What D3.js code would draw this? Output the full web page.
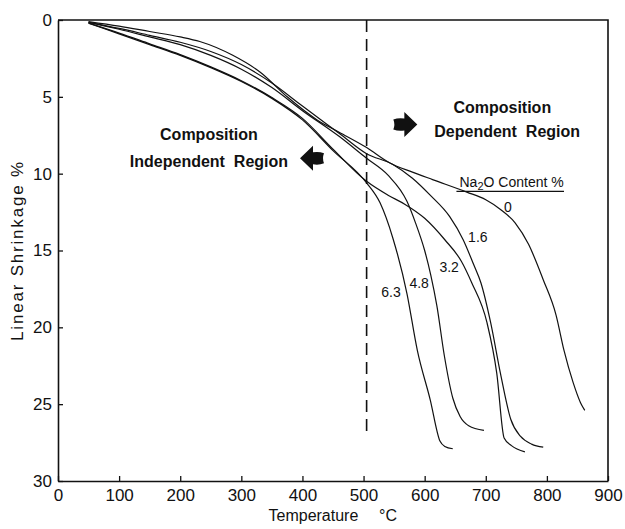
<!DOCTYPE html>
<html>
<head>
<meta charset="utf-8">
<script src="https://cdn.jsdelivr.net/npm/d3@7"></script>
<style>
  html, body { margin: 0; padding: 0; background: #fff; }
  svg { display: block; }
  text { fill: #111; }
</style>
</head>
<body>
<svg id="chart" width="625" height="529"></svg>
<script>
// Linear shrinkage (%) against temperature (°C), one curve per Na2O content
const na0 = [[50,0.1],[100,0.4],[150,0.75],[200,1.1],[232,1.4],[286,2.3],[331,3.4],[375,5.0],[424,6.5],[460,7.3],[505,8.3],[543,9.3],[580,9.9],[614,10.4],[669,11.2],[700,11.7],[723,12.3],[748,13.2],[770,14.6],[794,16.9],[815,19.2],[828,21.5],[843,23.6],[855,24.9],[862,25.4]];
const na16 = [[50,0.15],[100,0.55],[150,1.0],[200,1.45],[250,2.05],[300,2.9],[350,4.1],[400,5.6],[461,7.4],[505,8.7],[548,9.4],[580,10.3],[609,11.4],[641,12.8],[663,14.3],[680,15.9],[692,17.1],[708,19.7],[724,23.0],[741,26.0],[757,27.1],[775,27.6],[794,27.8]];
const na32 = [[50,0.2],[100,0.85],[150,1.55],[200,2.25],[250,3.05],[300,3.95],[350,5.05],[400,6.4],[450,8.4],[505,10.5],[540,11.4],[568,12.0],[600,12.9],[633,14.3],[660,15.7],[677,17.1],[702,19.7],[718,23.0],[730,27.2],[742,27.7],[764,28.1]];
const na48 = [[50,0.15],[100,0.6],[150,1.1],[200,1.6],[250,2.3],[300,3.2],[350,4.4],[400,5.9],[461,7.6],[505,9.0],[540,10.1],[571,11.8],[585,13.2],[600,15.0],[610,16.6],[620,18.6],[632,21.8],[646,24.6],[658,25.8],[672,26.4],[697,26.7]];
const na63 = [[50,0.2],[100,0.9],[150,1.6],[200,2.3],[250,3.1],[300,4.0],[350,5.1],[400,6.5],[450,8.5],[505,10.6],[527,11.9],[548,14.2],[571,17.8],[588,21.5],[609,24.7],[625,27.4],[633,27.75],[646,27.9]];

const seriesNames = ["0", "1.6", "3.2", "4.8", "6.3"];
const seriesData = [na0, na16, na32, na48, na63];
// label anchor (temperature, shrinkage) for each curve name
const labelAt = [[736,12.2],[687,14.1],[640,16.1],[591,17.1],[545,17.7]];

const xTicks = [0,100,200,300,400,500,600,700,800,900];
const yTicks = [0,5,10,15,20,25,30];
const boundaryTemp = 505;
const boundaryEnd = 27.1;

const svg = d3.select("#chart");
const x = d3.scaleLinear().domain([0, 900]).range([58, 608]);
const y = d3.scaleLinear().domain([0, 30]).range([20, 481]);

const font = "'Liberation Sans', Arial, sans-serif";

// frame: top and right edges
svg.append("path")
  .attr("d", `M${x(0)},${y(0)}H${x(900)}V${y(30)}`)
  .attr("fill", "none").attr("stroke", "#111").attr("stroke-width", 1.6);

// axes with inward ticks
const xAxis = svg.append("g").attr("transform", `translate(0,${y(30)})`)
  .call(d3.axisBottom(x).tickValues(xTicks).tickSizeInner(-5).tickSizeOuter(0).tickPadding(8));
const yAxis = svg.append("g").attr("transform", `translate(${x(0)},0)`)
  .call(d3.axisLeft(y).tickValues(yTicks).tickSizeInner(-5).tickSizeOuter(0).tickPadding(6));
[xAxis, yAxis].forEach(g => {
  g.select(".domain").attr("stroke", "#111").attr("stroke-width", 1.6);
  g.selectAll(".tick line").attr("stroke", "#111").attr("stroke-width", 1.3);
  g.selectAll(".tick text").attr("font-family", font).attr("font-size", 17).attr("fill", "#111");
});

// composition boundary
svg.append("line")
  .attr("x1", x(boundaryTemp)).attr("x2", x(boundaryTemp))
  .attr("y1", y(0)).attr("y2", y(boundaryEnd))
  .attr("stroke", "#111").attr("stroke-width", 1.6).attr("stroke-dasharray", "12,7");

// shrinkage curves
const line = d3.line().x(d => x(d[0])).y(d => y(d[1])).curve(d3.curveMonotoneX);
svg.append("g").selectAll("path").data(seriesData).join("path")
  .attr("d", line)
  .attr("fill", "none").attr("stroke", "#111").attr("stroke-width", 1.2);

// curve labels
svg.append("g").selectAll("text").data(seriesNames).join("text")
  .attr("x", (d, i) => x(labelAt[i][0]))
  .attr("y", (d, i) => y(labelAt[i][1]))
  .attr("dy", "0.35em")
  .attr("text-anchor", "middle")
  .attr("font-family", font).attr("font-size", 14)
  .text(d => d);

// legend heading, underlined
const head = svg.append("text")
  .attr("x", x(657)).attr("y", y(10.85))
  .attr("font-family", font).attr("font-size", 14);
head.append("tspan").text("Na");
head.append("tspan").attr("font-size", 11).attr("dy", 3).text("2");
head.append("tspan").attr("dy", -3).text("O Content %");
svg.append("line")
  .attr("x1", x(652)).attr("x2", x(828))
  .attr("y1", y(11.15)).attr("y2", y(11.15))
  .attr("stroke", "#111").attr("stroke-width", 1.3);

// region notes
const bold = sel => sel.attr("font-family", font).attr("font-size", 16)
  .attr("font-weight", "bold").attr("text-anchor", "middle").style("white-space", "pre");
svg.append("text").attr("x", x(727)).attr("y", y(6.05)).call(bold).text("Composition");
svg.append("text").attr("x", x(735)).attr("y", y(7.6)).call(bold).text("Dependent  Region");
svg.append("text").attr("x", x(247)).attr("y", y(7.8)).call(bold).text("Composition");
svg.append("text").attr("x", x(247)).attr("y", y(9.55)).call(bold).text("Independent  Region");

// block arrows: tip at (0,0) pointing right
const arrowPath = "M0,0 L-13,-12.5 L-13,-6 Q-19,-7 -24,-5 Q-22,0 -24,5 Q-19,7 -13,6 L-13,12.5 Z";
svg.append("path").attr("d", arrowPath)
  .attr("transform", `translate(${x(588)},${y(6.8)})`).attr("fill", "#111");
svg.append("path").attr("d", arrowPath)
  .attr("transform", `translate(${x(396)},${y(9.0)}) scale(-1,1)`).attr("fill", "#111");

// axis titles
svg.append("text")
  .attr("x", x(418)).attr("y", 521)
  .attr("text-anchor", "middle")
  .attr("font-family", font).attr("font-size", 16)
  .text("Temperature");
svg.append("text")
  .attr("x", x(540)).attr("y", 521)
  .attr("text-anchor", "middle")
  .attr("font-family", font).attr("font-size", 16)
  .text("°C");
svg.append("text")
  .attr("transform", `translate(23,${y(15)}) rotate(-90)`)
  .attr("text-anchor", "middle")
  .attr("font-family", font).attr("font-size", 17)
  .attr("letter-spacing", 1.8)
  .text("Linear Shrinkage %");
</script>
</body>
</html>
